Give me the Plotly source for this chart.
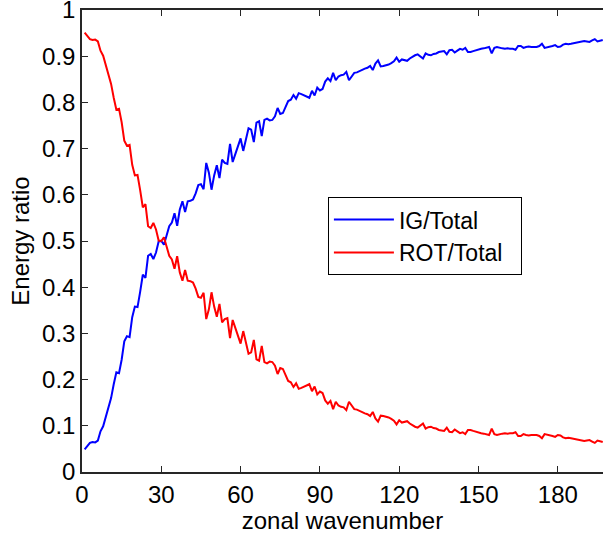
import plotly.graph_objects as go

wavenumber = list(range(1, 198))

ig_total = [
    0.049, 0.055, 0.063, 0.065, 0.064, 0.068, 0.088, 0.099, 0.120, 0.145,
    0.160, 0.190, 0.216, 0.214, 0.243, 0.283, 0.294, 0.292, 0.335, 0.358,
    0.357, 0.390, 0.427, 0.420, 0.468, 0.472, 0.461, 0.475, 0.499, 0.500,
    0.492, 0.512, 0.532, 0.540, 0.560, 0.533, 0.568, 0.586, 0.563, 0.586,
    0.587, 0.590, 0.603, 0.621, 0.623, 0.612, 0.669, 0.648, 0.611, 0.642,
    0.664, 0.636, 0.676, 0.669, 0.667, 0.710, 0.671, 0.688, 0.706, 0.722,
    0.695, 0.720, 0.744, 0.741, 0.714, 0.756, 0.759, 0.727, 0.762, 0.765,
    0.761, 0.762, 0.770, 0.788, 0.775, 0.777, 0.789, 0.803, 0.806, 0.816,
    0.808, 0.820, 0.818, 0.815, 0.812, 0.810, 0.825, 0.815, 0.832, 0.826,
    0.829, 0.845, 0.852, 0.846, 0.864, 0.848, 0.856, 0.859, 0.860, 0.866,
    0.848, 0.857, 0.864, 0.865, 0.868, 0.870, 0.873, 0.875, 0.879, 0.870,
    0.884, 0.891, 0.878, 0.879, 0.880, 0.882, 0.885, 0.889, 0.897, 0.888,
    0.893, 0.891, 0.890, 0.895, 0.899, 0.902, 0.904, 0.899, 0.895, 0.906,
    0.903, 0.902, 0.905, 0.906, 0.909, 0.910, 0.911, 0.904, 0.913, 0.914,
    0.908, 0.912, 0.916, 0.914, 0.918, 0.909, 0.909, 0.911, 0.913, 0.914,
    0.916, 0.917, 0.918, 0.920, 0.906, 0.918, 0.920, 0.918, 0.917, 0.916,
    0.917, 0.916, 0.916, 0.914, 0.922, 0.922, 0.918, 0.920, 0.921, 0.920,
    0.920, 0.920, 0.922, 0.927, 0.918, 0.919, 0.921, 0.922, 0.924, 0.920,
    0.921, 0.925, 0.927, 0.926, 0.927, 0.928, 0.929, 0.931, 0.931, 0.933,
    0.932, 0.931, 0.934, 0.937, 0.932, 0.934, 0.935,
]

rot_total = [
    0.951, 0.945, 0.937, 0.935, 0.936, 0.932, 0.912, 0.901, 0.880, 0.855,
    0.840, 0.810, 0.784, 0.786, 0.757, 0.717, 0.706, 0.708, 0.665, 0.642,
    0.643, 0.610, 0.573, 0.580, 0.532, 0.528, 0.539, 0.525, 0.501, 0.500,
    0.508, 0.488, 0.468, 0.460, 0.440, 0.467, 0.432, 0.414, 0.437, 0.414,
    0.413, 0.410, 0.397, 0.379, 0.377, 0.388, 0.331, 0.352, 0.389, 0.358,
    0.336, 0.364, 0.324, 0.331, 0.333, 0.290, 0.329, 0.312, 0.294, 0.278,
    0.305, 0.280, 0.256, 0.259, 0.286, 0.244, 0.241, 0.273, 0.238, 0.235,
    0.239, 0.238, 0.230, 0.212, 0.225, 0.223, 0.211, 0.197, 0.194, 0.184,
    0.192, 0.180, 0.182, 0.185, 0.188, 0.190, 0.175, 0.185, 0.168, 0.174,
    0.171, 0.155, 0.148, 0.154, 0.136, 0.152, 0.144, 0.141, 0.140, 0.134,
    0.152, 0.143, 0.136, 0.135, 0.132, 0.130, 0.127, 0.125, 0.121, 0.130,
    0.116, 0.109, 0.122, 0.121, 0.120, 0.118, 0.115, 0.111, 0.103, 0.112,
    0.107, 0.109, 0.110, 0.105, 0.101, 0.098, 0.096, 0.101, 0.105, 0.094,
    0.097, 0.098, 0.095, 0.094, 0.091, 0.090, 0.089, 0.096, 0.087, 0.086,
    0.092, 0.088, 0.084, 0.086, 0.082, 0.091, 0.091, 0.089, 0.087, 0.086,
    0.084, 0.083, 0.082, 0.080, 0.094, 0.082, 0.080, 0.082, 0.083, 0.084,
    0.083, 0.084, 0.084, 0.086, 0.078, 0.078, 0.082, 0.080, 0.079, 0.080,
    0.080, 0.080, 0.078, 0.073, 0.082, 0.081, 0.079, 0.078, 0.076, 0.080,
    0.079, 0.075, 0.073, 0.074, 0.073, 0.072, 0.071, 0.069, 0.069, 0.067,
    0.068, 0.069, 0.066, 0.063, 0.068, 0.066, 0.065,
]

x_ticks = [0, 30, 60, 90, 120, 150, 180]
y_ticks = [0, 0.1, 0.2, 0.3, 0.4, 0.5, 0.6, 0.7, 0.8, 0.9, 1]
y_ticklabels = ["0", "0.1", "0.2", "0.3", "0.4", "0.5", "0.6", "0.7", "0.8", "0.9", "1"]

FONT = "Liberation Sans, Arial, Helvetica, sans-serif"
AXC = "#262626"
FS = 24

fig = go.Figure()
fig.add_trace(go.Scatter(x=wavenumber, y=ig_total, mode="lines", name="IG/Total\u00a0\u00a0",
                         line=dict(color="#0000ff", width=2)))
fig.add_trace(go.Scatter(x=wavenumber, y=rot_total, mode="lines", name="ROT/Total\u00a0\u00a0",
                         line=dict(color="#ff0000", width=2)))

fig.update_layout(
    width=603, height=534,
    margin=dict(l=82, r=0, t=10, b=62, pad=0),
    paper_bgcolor="white", plot_bgcolor="white",
    font=dict(family=FONT, size=FS, color="black"),
    showlegend=True,
    legend=dict(
        x=0.472, y=0.595, xanchor="left", yanchor="top",
        bgcolor="white", bordercolor="black", borderwidth=1,
        font=dict(size=23), itemwidth=60, tracegroupgap=0,
    ),
    xaxis=dict(
        range=[0, 197.1], tickmode="array", tickvals=x_ticks,
        ticks="inside", ticklen=6, tickwidth=1, tickcolor=AXC,
        showline=True, linecolor=AXC, linewidth=1.5, mirror="ticks",
        showgrid=False, zeroline=False, automargin=False,
        ticklabeloverflow="allow",
        title=dict(text="zonal wavenumber", standoff=2, font=dict(size=FS)),
        tickfont=dict(size=FS),
    ),
    yaxis=dict(
        range=[0, 1], tickmode="array", tickvals=y_ticks, ticktext=y_ticklabels,
        ticks="inside", ticklen=6, tickwidth=1, tickcolor=AXC,
        showline=True, linecolor=AXC, linewidth=1.5, mirror=False,
        showgrid=False, zeroline=False, automargin=False,
        ticklabeloverflow="allow",
        title=dict(text="Energy ratio", standoff=6, font=dict(size=FS)),
        tickfont=dict(size=FS),
    ),
)

fig.write_html(
    "out.html",
    config={"displayModeBar": False},
    post_script="document.body.style.margin='0';document.body.style.padding='0';",
)
